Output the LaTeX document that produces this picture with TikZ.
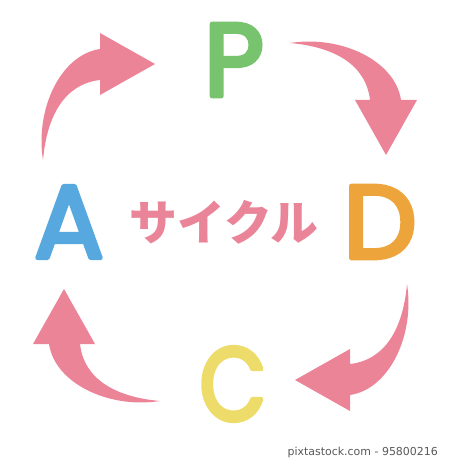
\documentclass[tikz,border=0pt]{standalone}
\usepackage{fontspec}
\newfontfamily\letterfont{Poppins}
\newfontfamily\cjk{Noto Sans CJK JP}
\newfontfamily\markfont{DejaVu Sans}
\definecolor{arrowpink}{HTML}{EC8498}
\definecolor{textpink}{HTML}{EA8498}
\definecolor{pgreen}{HTML}{77C36E}
\definecolor{dorange}{HTML}{EDA43B}
\definecolor{cyellow}{HTML}{EEDC6A}
\definecolor{ablue}{HTML}{56A8DF}
% rounded outline round the letters
\newcommand\roundtext[1]{\special{pdf:literal direct 2 Tr 1 j 1 J 4.5 w}#1\special{pdf:literal direct 0 Tr}}

\begin{document}
\begin{tikzpicture}[
		x = 1bp, y = -1bp,
		letter/.style = {inner sep = 0pt, font = \letterfont\fontsize{104}{104}\selectfont},
		cyclearrow/.style = {fill = arrowpink}
	]
	\useasboundingbox [fill = white] (0,0) rectangle (450,469);

	% the four letters
	\node (p) [letter, text = pgreen] at (234,60) {\roundtext{P}};
	\node (d) [letter, text = dorange] at (380,222) {\roundtext{D}};
	\node (c) [letter, text = cyellow] at (233,384) {\scalebox{0.84}[1]{\roundtext{C}}};
	\node (a) [letter, text = ablue] at (69,222) {\roundtext{A}};

	\node (cyc) [inner sep = 0pt, text = textpink, font = \cjk\bfseries\fontsize{48}{48}\selectfont] at (224,222) {サイクル};

	% one tapered arrow, turned a quarter each time
	\foreach \ang/\cy in {0/225, -90/225, -180/219, -270/219}
		\fill [cyclearrow, shift = {(225,\cy)}, rotate = \ang]
			(-182,-65) .. controls (-190,-115) and (-165,-170) .. (-125,-176)
			-- (-125,-192) -- (-70,-161) -- (-125,-130) -- (-125,-145)
			.. controls (-160,-141) and (-178,-110) .. (-182,-65) -- cycle;

	\node (mark) [anchor = east, inner sep = 0pt, text = black!65, font = \markfont\fontsize{11}{11}\selectfont] at (438,452) {pixtastock.com - 95800216};
\end{tikzpicture}
\end{document}
